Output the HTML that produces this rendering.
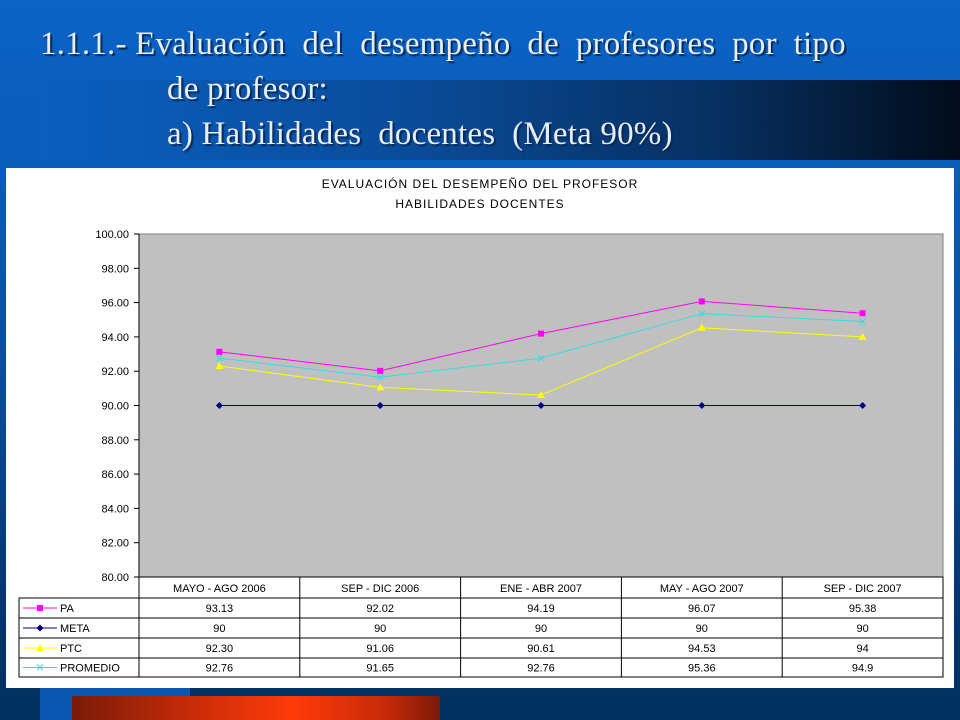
<!DOCTYPE html>
<html><head><meta charset="utf-8"><style>
html,body{margin:0;padding:0}
body{width:960px;height:720px;position:relative;overflow:hidden;background:linear-gradient(180deg,#0b63c6 0px,#0a5cb8 180px,#0a4a94 420px,#053470 600px,#02305f 720px);font-family:"Liberation Sans",sans-serif}
#band{position:absolute;left:40px;top:80px;width:920px;height:80px;background:linear-gradient(90deg,#0a5fc0 0%,#0a4c9a 40%,#072e5e 75%,#020c1a 100%)}
#leftstrip{position:absolute;left:40px;top:688px;width:150px;height:32px;background:#0a56b0}
#redbar{position:absolute;left:72px;top:696px;width:368px;height:24px;background:linear-gradient(90deg,#7a1a08,#d83008 40%,#ff3a08 60%,#c82a08 85%,#7a1a08)}
.t{position:absolute;font-family:"Liberation Serif",serif;font-size:33px;color:#e8eef8;text-shadow:2px 2px 1px #062a55;white-space:nowrap;letter-spacing:0.2px}
#chartbox{position:absolute;left:6px;top:168px;width:948px;height:520px;background:#fff}
</style></head><body>
<div id="band"></div>
<div id="leftstrip"></div>
<div id="redbar"></div>
<div class="t" style="left:40px;top:26px">1.1.1.- Evaluación&nbsp; del&nbsp; desempeño&nbsp; de&nbsp; profesores&nbsp; por&nbsp; tipo</div>
<div class="t" style="left:167px;top:71px">de profesor:</div>
<div class="t" style="left:167px;top:116px">a) Habilidades&nbsp; docentes&nbsp; (Meta 90%)</div>
<div id="chartbox">
<svg id="svg" width="948" height="520" xmlns="http://www.w3.org/2000/svg" style="position:absolute;left:0;top:0"></svg>
</div>
<script>
const categories=["MAYO - AGO 2006","SEP - DIC 2006","ENE - ABR 2007","MAY - AGO 2007","SEP - DIC 2007"];
const seriesNames=["PA","META","PTC","PROMEDIO"];
const paValues=[93.13,92.02,94.19,96.07,95.38];
const metaValues=[90,90,90,90,90];
const ptcValues=[92.30,91.06,90.61,94.53,94];
const promValues=[92.76,91.65,92.76,95.36,94.9];
const paLabels=["93.13","92.02","94.19","96.07","95.38"];
const metaLabels=["90","90","90","90","90"];
const ptcLabels=["92.30","91.06","90.61","94.53","94"];
const promLabels=["92.76","91.65","92.76","95.36","94.9"];
const yTicks=[80,82,84,86,88,90,92,94,96,98,100];
const yTickLabels=["80.00","82.00","84.00","86.00","88.00","90.00","92.00","94.00","96.00","98.00","100.00"];

const NS="http://www.w3.org/2000/svg";
const svg=document.getElementById('svg');
const X0=133,X1=937,Y0=66,Y1=409,YMIN=80,YMAX=100;
const colW=(X1-X0)/categories.length;
function xs(i){return X0+colW*(i+0.5);}
function ys(v){return Y1-(v-YMIN)/(YMAX-YMIN)*(Y1-Y0);}
function mk(tag,attrs,parent){const e=document.createElementNS(NS,tag);for(const k in attrs)e.setAttribute(k,attrs[k]);(parent||svg).appendChild(e);return e;}
function txt(x,y,s,anchor,size,parent){const e=mk('text',{x:x,y:y,'text-anchor':anchor,'font-size':size||11,'font-family':'Liberation Sans, sans-serif',fill:'#000'},parent);e.textContent=s;return e;}

const t1=txt(474,20,"EVALUACIÓN DEL DESEMPEÑO DEL PROFESOR","middle",12);


t1.setAttribute('letter-spacing','1');
const t2=txt(474,40,"HABILIDADES DOCENTES","middle",12);


t2.setAttribute('letter-spacing','1');

const plot=mk('rect',{x:X0,y:Y0,width:X1-X0,height:Y1-Y0,fill:'#c0c0c0',stroke:'#808080','stroke-width':1});


mk('line',{x1:X0,y1:Y0,x2:X0,y2:Y1,stroke:'#000'});
yTicks.forEach((v,i)=>{
  const y=ys(v);
  mk('line',{x1:X0-5,y1:y,x2:X0,y2:y,stroke:'#000'});
  const l=txt(X0-10,y+4,yTickLabels[i],"end",11);
  
  
});

const colors=["#ff00ff","#000080","#ffff00","#33dddd"];
const allVals=[paValues,metaValues,ptcValues,promValues];
const allLabels=[paLabels,metaLabels,ptcLabels,promLabels];
function marker(kind,x,y,c,g){
  if(kind===0) mk('rect',{x:x-3,y:y-3,width:6,height:6,fill:c},g);
  else if(kind===1) mk('polygon',{points:`${x},${y-3.5} ${x+3.5},${y} ${x},${y+3.5} ${x-3.5},${y}`,fill:c},g);
  else if(kind===2) mk('polygon',{points:`${x},${y-4} ${x+4},${y+3} ${x-4},${y+3}`,fill:c},g);
  else {mk('line',{x1:x-3,y1:y-3,x2:x+3,y2:y+3,stroke:c},g);mk('line',{x1:x-3,y1:y+3,x2:x+3,y2:y-3,stroke:c},g);}
}
[1,2,3,0].forEach(s=>{
  const g=mk('g',{});
  
  
  const pts=allVals[s].map((v,i)=>xs(i)+','+ys(v)).join(' ');
  mk('polyline',{points:pts,fill:'none',stroke:colors[s],'stroke-width':1},g);
  allVals[s].forEach((v,i)=>marker(s,xs(i),ys(v),colors[s],g));
});

// data table
const TL=13,rowH=[21,20,20,20,19];
let ry=Y1;
const tbl=mk('g',{});


mk('rect',{x:X0,y:ry,width:X1-X0,height:rowH[0],fill:'#fff',stroke:'#000'},tbl);
categories.forEach((c,i)=>{
  mk('line',{x1:X0+colW*i,y1:ry,x2:X0+colW*i,y2:ry+rowH[0],stroke:'#000'},tbl);
  const l=txt(xs(i),ry+15,c,"middle",11,tbl);
  
  
});
ry+=rowH[0];
seriesNames.forEach((n,s)=>{
  const h=rowH[s+1];
  mk('rect',{x:TL,y:ry,width:X1-TL,height:h,fill:'#fff',stroke:'#000'},tbl);
  for(let i=0;i<=categories.length;i++) mk('line',{x1:X0+colW*i,y1:ry,x2:X0+colW*i,y2:ry+h,stroke:'#000'},tbl);
  const lg=mk('g',{},tbl);
  
  
  mk('line',{x1:TL+4,y1:ry+h/2,x2:TL+38,y2:ry+h/2,stroke:colors[s]},lg);
  marker(s,TL+21,ry+h/2,colors[s],lg);
  txt(TL+41,ry+h/2+4,n,"start",11,lg);
  allLabels[s].forEach((v,i)=>{
    const l=txt(xs(i),ry+h/2+4,v,"middle",11,tbl);
    
    
  });
  ry+=h;
});
</script>
</body></html>
